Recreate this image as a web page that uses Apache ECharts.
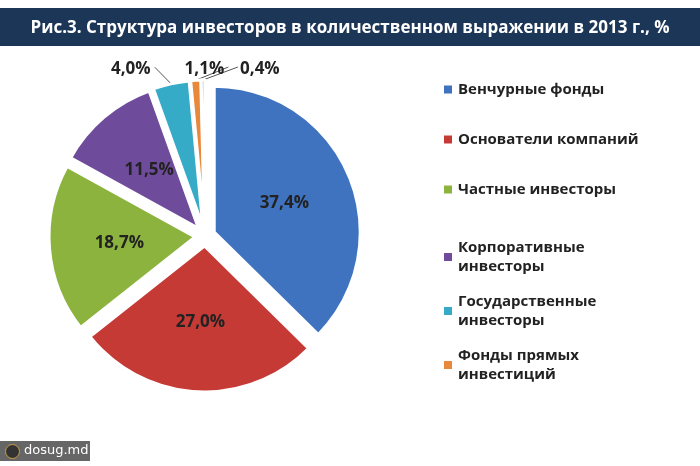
<!DOCTYPE html>
<html>
<head>
<meta charset="utf-8">
<script src="https://cdn.jsdelivr.net/npm/echarts@6/dist/echarts.min.js"></script>
<style>
  html, body { margin: 0; padding: 0; background: #fff; }
  #chart { width: 700px; height: 466px; }
</style>
</head>
<body>
<div id="chart"></div>
<script>
var categories = ['Венчурные фонды', 'Основатели компаний', 'Частные инвесторы',
	'Корпоративные\nинвесторы', 'Государственные\nинвесторы', 'Фонды прямых\nинвестиций', 'Прочие'];
var values = [37.4, 27.0, 18.7, 11.5, 4.0, 1.1, 0.4];
var colors = ['#3f73c0', '#c63a36', '#8db33f', '#6f4c9b', '#36abc8', '#e8883a', '#9bb7e0'];
// where the small outside labels sit
var outsideLabelPos = { 4: [133, 79], 5: [205, 79], 6: [260, 79] };

var chart = echarts.init(document.getElementById('chart'));

var data = [];
for (var i = 0; i < values.length; i++) {
	var item = { name: categories[i], value: values[i], selected: true, itemStyle: { color: colors[i] } };
	if (i >= 4) {
		item.label = { position: 'outside', color: '#222' };
		item.labelLine = { show: true, length: 8, length2: 4, lineStyle: { color: '#555' } };
	}
	data.push(item);
}

var legendText = { fontSize: 15, fontWeight: 'bold', color: '#222', fontFamily: 'Open Sans', lineHeight: 19 };

chart.setOption({
	animation: false,
	title: {
		text: 'Рис.3. Структура инвесторов в количественном выражении в 2013 г., %',
		left: 'center',
		top: 15,
		textStyle: { color: '#fff', fontSize: 17, fontWeight: 'bold', fontFamily: 'Open Sans' }
	},
	graphic: [
		{ type: 'rect', left: 0, top: 8, shape: { width: 700, height: 38 }, style: { fill: '#1c3657' }, z: -1 },
		{ type: 'rect', left: 0, top: 441, shape: { width: 90, height: 20 }, style: { fill: '#666' } },
		{ type: 'circle', left: 5, top: 444, shape: { r: 7 }, style: { fill: '#333', stroke: '#c9a24a', lineWidth: 1 } },
		{ type: 'text', left: 24, top: 444, style: { text: 'dosug.md', fill: '#fff', fontSize: 13, fontFamily: 'DejaVu Sans' } }
	],
	legend: [{
		orient: 'vertical', left: 437, top: 75,
		itemWidth: 10, itemHeight: 10, itemGap: 31, icon: 'rect',
		data: categories.slice(0, 3),
		textStyle: legendText
	}, {
		orient: 'vertical', left: 437, top: 233,
		itemWidth: 10, itemHeight: 10, itemGap: 16, icon: 'rect',
		data: categories.slice(3, 6),
		textStyle: legendText
	}],
	series: [{
		type: 'pie',
		center: [205, 236],
		radius: [0, 146],
		startAngle: 90,
		selectedMode: 'multiple',
		selectedOffset: 10,
		label: {
			position: 'inside',
			formatter: function (p) { return p.value.toFixed(1).replace('.', ',') + '%'; },
			fontSize: 17,
			fontWeight: 'bold',
			color: '#222',
			fontFamily: 'Open Sans'
		},
		labelLayout: function (params) {
			var pos = outsideLabelPos[params.dataIndex];
			if (!pos) return;
			var r = params.labelRect;
			var pts = params.labelLinePoints;
			var end = [pos[0] + (params.dataIndex === 6 ? -22 : 24), pos[1] - 2];
			return {
				dx: pos[0] - (r.x + r.width / 2),
				dy: pos[1] - (r.y + r.height / 2),
				labelLinePoints: pts ? [pts[0], end, end] : undefined
			};
		},
		itemStyle: { borderColor: '#fff', borderWidth: 3 },
		data: data
	}]
});
</script>
</body>
</html>
